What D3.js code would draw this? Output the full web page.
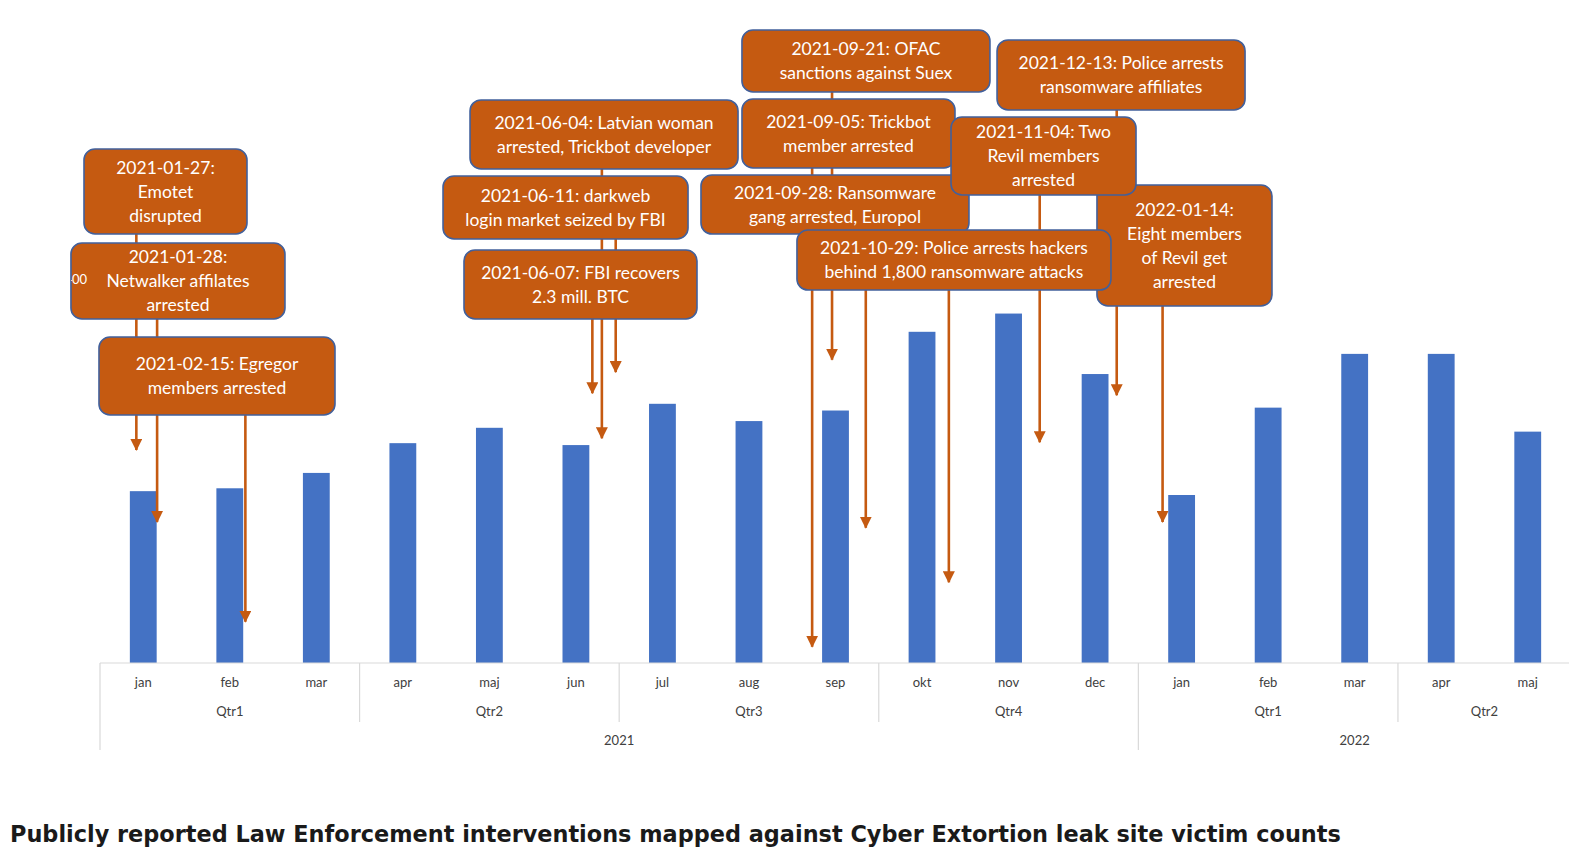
<!DOCTYPE html>
<html>
<head>
<meta charset="utf-8">
<script src="https://cdn.jsdelivr.net/npm/d3@7"></script>
<style>
  body { margin: 0; background: #fff; }
  svg { display: block; }
</style>
</head>
<body>
<svg id="chart"></svg>
<script>
// months on the axis (two years, jan 2021 - maj 2022)
const months = ["jan", "feb", "mar", "apr", "maj", "jun", "jul", "aug", "sep", "okt", "nov", "dec",
                "jan", "feb", "mar", "apr", "maj"];
const quarters = ["Qtr1", "Qtr2", "Qtr3", "Qtr4", "Qtr1", "Qtr2"];
const quarterStart = [0, 3, 6, 9, 12, 15];
const years = ["2021", "2022"];
const yearStart = [0, 12];

// leak site victims per month
const victims = [179, 182, 198, 229, 245, 227, 270, 252, 263, 345, 364, 301,
                 175, 266, 322, 322, 241];

// law enforcement events: label lines, where the arrow sits (month units) and where it points (victims)
const eventText = [
  ["2021-01-27:", "Emotet", "disrupted"],
  ["2021-01-28:", "Netwalker affilates", "arrested"],
  ["2021-02-15: Egregor", "members arrested"],
  ["2021-06-04: Latvian woman", "arrested, Trickbot developer"],
  ["2021-06-11: darkweb", "login market seized by FBI"],
  ["2021-06-07: FBI recovers", "2.3 mill. BTC"],
  ["2021-09-21: OFAC", "sanctions against Suex"],
  ["2021-09-05: Trickbot", "member arrested"],
  ["2021-09-28: Ransomware", "gang arrested, Europol"],
  ["2021-12-13: Police arrests", "ransomware affiliates"],
  ["2022-01-14:", "Eight members", "of Revil get", "arrested"],
  ["2021-11-04: Two", "Revil members", "arrested"],
  ["2021-10-29: Police arrests hackers", "behind 1,800 ransomware attacks"]
];
const eventMonth = [0.42, 0.66, 1.68, 5.80, 5.96, 5.69, 8.46, 8.23, 8.85, 11.75, 12.28, 10.86, 9.81];
const eventTip = [222, 147, 43, 234, 303, 281, 316, 17, 141, 279, 147, 230, 84];

// callout box layout: centre (month units), top (victim units), width and height in px
const boxCenter = [0.757, 0.901, 1.352, 5.825, 5.380, 5.553, 8.852, 8.650, 8.494, 11.800, 12.533, 10.904, 9.869];
const boxTop = [535.4, 437.5, 339.6, 586.5, 507.3, 430.2, 659.4, 587.5, 508.3, 649, 497.9, 568.75, 451];
const boxW = [163, 214, 236, 268, 245, 233, 248, 213, 268, 248, 175, 185, 314];
const boxH = [85, 76, 78, 69, 63, 69, 62, 69, 59, 70, 121, 78, 60];

const width = 1569, height = 855;
const svg = d3.select("#chart").attr("width", width).attr("height", height);

const left = 100, right = 1571, baseY = 663;

const x = d3.scaleBand().domain(d3.range(months.length)).range([left, right]).padding(0);
const xm = d3.scaleLinear().domain([0, months.length]).range([left, right]); // continuous month position
const y = d3.scaleLinear().domain([0, 400]).range([baseY, 279]);
const step = x.step();

const orange = "#c55a11";

// arrowhead
svg.append("defs").append("marker")
  .attr("id", "head")
  .attr("markerUnits", "userSpaceOnUse")
  .attr("viewBox", "0 0 12 12")
  .attr("refX", 6).attr("refY", 11)
  .attr("markerWidth", 12).attr("markerHeight", 12)
  .attr("orient", "0")
  .append("path")
  .attr("d", "M0,0 L12,0 L6,12 Z")
  .attr("fill", orange);

// clip in the y axis' own coordinates (axis sits at x = 92)
svg.append("clipPath").attr("id", "yclip")
  .append("rect").attr("x", -21).attr("y", 0).attr("width", 100).attr("height", height);

// bars
svg.selectAll(".bar")
  .data(victims)
  .enter().append("rect")
  .attr("class", "bar")
  .attr("x", (d, i) => x(i) + step * 0.345)
  .attr("width", step * 0.31)
  .attr("y", d => y(d))
  .attr("height", d => baseY - y(d))
  .attr("fill", "#4472c4");

// category axis: month / quarter / year levels
const axis = svg.append("g").attr("class", "x axis");
const grid = "#d9d9d9";

axis.append("line")
  .attr("x1", left).attr("x2", width)
  .attr("y1", baseY).attr("y2", baseY)
  .attr("stroke", grid).attr("stroke-width", 1.2);

axis.selectAll(".qline")
  .data(quarterStart)
  .enter().append("line")
  .attr("class", "qline")
  .attr("x1", d => x(d)).attr("x2", d => x(d))
  .attr("y1", baseY)
  .attr("y2", d => yearStart.includes(d) ? 750 : 722)
  .attr("stroke", grid).attr("stroke-width", 1.2);

const labelFont = "Lato, 'Open Sans', sans-serif";

// centre of a group that runs from start[i] to the next start (or the end)
function groupMid(start, i) {
  const a = xm(start[i]);
  const b = i + 1 < start.length ? xm(start[i + 1]) : right;
  return (a + b) / 2;
}

axis.selectAll(".mlabel")
  .data(months)
  .enter().append("text")
  .attr("class", "mlabel")
  .attr("x", (d, i) => x(i) + step / 2)
  .attr("y", 687)
  .attr("text-anchor", "middle")
  .style("font-family", labelFont)
  .style("font-size", "13px")
  .style("fill", "#404040")
  .text(d => d);

axis.selectAll(".qlabel")
  .data(quarters)
  .enter().append("text")
  .attr("class", "qlabel")
  .attr("x", (d, i) => groupMid(quarterStart, i))
  .attr("y", 716)
  .attr("text-anchor", "middle")
  .style("font-family", labelFont)
  .style("font-size", "13px")
  .style("fill", "#404040")
  .text(d => d);

axis.selectAll(".ylabel")
  .data(years)
  .enter().append("text")
  .attr("class", "ylabel")
  .attr("x", (d, i) => groupMid(yearStart, i))
  .attr("y", 745)
  .attr("text-anchor", "middle")
  .style("font-family", labelFont)
  .style("font-size", "13px")
  .style("fill", "#404040")
  .text(d => d);

// arrows, drawn under the callouts
svg.selectAll(".arrow")
  .data(eventTip)
  .enter().append("line")
  .attr("class", "arrow")
  .attr("x1", (d, i) => xm(eventMonth[i]))
  .attr("x2", (d, i) => xm(eventMonth[i]))
  .attr("y1", (d, i) => y(boxTop[i]) + boxH[i] / 2)
  .attr("y2", d => y(d))
  .attr("stroke", orange)
  .attr("stroke-width", 2.6)
  .attr("marker-end", "url(#head)");

// callouts
const callout = svg.selectAll(".callout")
  .data(eventText)
  .enter().append("g")
  .attr("class", "callout")
  .attr("transform", (d, i) => `translate(${xm(boxCenter[i])},${y(boxTop[i])})`);

callout.append("rect")
  .attr("x", (d, i) => -boxW[i] / 2)
  .attr("y", 0)
  .attr("width", (d, i) => boxW[i])
  .attr("height", (d, i) => boxH[i])
  .attr("rx", 11)
  .attr("fill", orange)
  .attr("stroke", "#41609c")
  .attr("stroke-width", 1.6);

callout.each(function (lines, i) {
  const g = d3.select(this);
  const lh = 24;
  const first = boxH[i] / 2 - (lines.length - 1) * lh / 2;
  g.selectAll("text")
    .data(lines)
    .enter().append("text")
    .attr("x", 0)
    .attr("y", (d, j) => first + j * lh)
    .attr("dy", "0.36em")
    .attr("text-anchor", "middle")
    .style("font-family", labelFont)
    .style("font-size", "17.5px")
    .style("fill", "#fff")
    .text(d => d);
});

// left value axis, almost fully hidden behind the callouts
const yAxis = svg.append("g")
  .attr("class", "y axis")
  .attr("transform", `translate(92,0)`)
  .attr("clip-path", "url(#yclip)")
  .call(d3.axisLeft(y).tickValues([400]).tickSize(0).tickPadding(5));
yAxis.select(".domain").remove();
yAxis.selectAll("text")
  .style("font-family", labelFont)
  .style("font-size", "13px")
  .style("fill", "#fff");

// caption
svg.append("text")
  .attr("x", 10)
  .attr("y", 842)
  .style("font-family", "'DejaVu Sans', Verdana, sans-serif")
  .style("font-weight", "bold")
  .style("font-size", "22.4px")
  .style("fill", "#1a1a1a")
  .text("Publicly reported Law Enforcement interventions mapped against Cyber Extortion leak site victim counts");
</script>
</body>
</html>
